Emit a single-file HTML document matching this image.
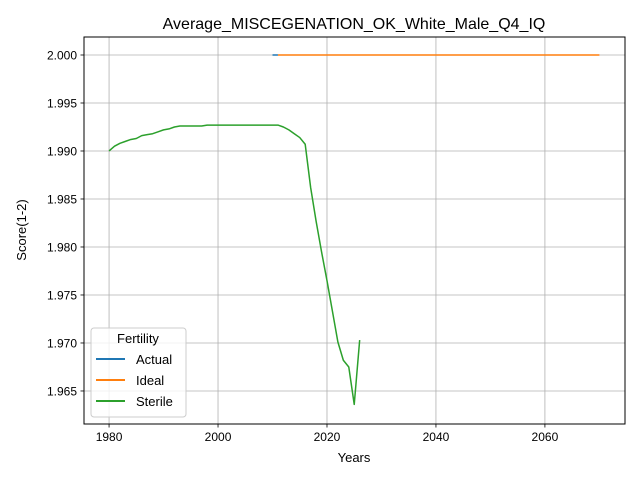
<!DOCTYPE html>
<html><head><meta charset="utf-8"><style>
body{margin:0;background:#fff}
svg{display:block;font-family:"Liberation Sans","DejaVu Sans",sans-serif}
</style></head><body>
<svg id="chart" width="640" height="480" viewBox="0 0 640 480" xmlns="http://www.w3.org/2000/svg">
<rect width="640" height="480" fill="#fff"/>
<g id="grid"></g>
<g id="series"></g>
<rect x="84" y="37" width="541" height="387" fill="none" stroke="#000" stroke-width="1"/>
<g id="ticks"></g>
<text x="354" y="29" font-size="16" text-anchor="middle">Average_MISCEGENATION_OK_White_Male_Q4_IQ</text>
<text x="354" y="462" font-size="13" text-anchor="middle">Years</text>
<text x="26" y="230" font-size="13" text-anchor="middle" transform="rotate(-90 26 230)">Score(1-2)</text>
<g>
<rect x="91" y="328" width="95" height="89" rx="3" fill="#fff" fill-opacity="0.8" stroke="#ccc"/>
<text x="138" y="343" font-size="13" text-anchor="middle">Fertility</text>
<g><line x1="96" y1="359" x2="125" y2="359" stroke="#1f77b4" stroke-width="2"/><text x="136" y="364" font-size="13">Actual</text></g>
<g><line x1="96" y1="380" x2="125" y2="380" stroke="#ff7f0e" stroke-width="2"/><text x="136" y="385" font-size="13">Ideal</text></g>
<g><line x1="96" y1="401" x2="125" y2="401" stroke="#2ca02c" stroke-width="2"/><text x="136" y="406" font-size="13">Sterile</text></g>
</g>
</svg>
<script>
const xTicks=[1980,2000,2020,2040,2060];
const yTicks=[1.965,1.970,1.975,1.980,1.985,1.990,1.995,2.000];
const actualYears=[2010,2011];
const actualValues=[2.000,2.000];
const idealYears=[2011,2070];
const idealValues=[2.000,2.000];
const sterileYears=[1980,1981,1982,1983,1984,1985,1986,1987,1988,1989,1990,1991,1992,1993,1994,1995,1996,1997,1998,1999,2000,2001,2002,2003,2004,2005,2006,2007,2008,2009,2010,2011,2012,2013,2014,2015,2016,2017,2018,2019,2020,2021,2022,2023,2024,2025,2026];
const sterileValues=[1.9900,1.9905,1.9908,1.9910,1.9912,1.9913,1.9916,1.9917,1.9918,1.9920,1.9922,1.9923,1.9925,1.9926,1.9926,1.9926,1.9926,1.9926,1.9927,1.9927,1.9927,1.9927,1.9927,1.9927,1.9927,1.9927,1.9927,1.9927,1.9927,1.9927,1.9927,1.9927,1.9925,1.9922,1.9918,1.9914,1.9907,1.9862,1.9827,1.9795,1.9765,1.9733,1.9701,1.9682,1.9675,1.9636,1.9703];

const X0=84,X1=625,Y0=37,Y1=424;
const xMin=1975.4,xMax=2074.7,yMin=1.96156,yMax=2.001875;
const sx=v=>X0+(v-xMin)/(xMax-xMin)*(X1-X0);
const sy=v=>Y1-(v-yMin)/(yMax-yMin)*(Y1-Y0);
const NS="http://www.w3.org/2000/svg";
const grid=document.getElementById('grid'),ticks=document.getElementById('ticks'),series=document.getElementById('series');
function mk(tag,attrs,parent){const e=document.createElementNS(NS,tag);for(const k in attrs)e.setAttribute(k,attrs[k]);parent.appendChild(e);return e;}
xTicks.forEach(t=>{
  const x=sx(t);
  const g=mk('line',{x1:x,x2:x,y1:Y0,y2:Y1,stroke:'#b0b0b0','stroke-width':0.8},grid);
  
  
  mk('line',{x1:x,x2:x,y1:Y1,y2:Y1+3.5,stroke:'#000','stroke-width':0.8},ticks);
  const tx=mk('text',{x:x,y:Y1+17,'font-size':12,'text-anchor':'middle'},ticks);
  tx.textContent=t;
  
  
});
yTicks.forEach(t=>{
  const y=sy(t);
  const g=mk('line',{x1:X0,x2:X1,y1:y,y2:y,stroke:'#b0b0b0','stroke-width':0.8},grid);
  
  
  mk('line',{x1:X0-3.5,x2:X0,y1:y,y2:y,stroke:'#000','stroke-width':0.8},ticks);
  const tx=mk('text',{x:X0-7,y:y+4.5,'font-size':12,'text-anchor':'end'},ticks);
  tx.textContent=t.toFixed(3);
  
  
});
function line(xs,ys,color,name){
  const p=mk('polyline',{points:xs.map((x,i)=>sx(x)+','+sy(ys[i])).join(' '),fill:'none',stroke:color,'stroke-width':1.5,'stroke-linejoin':'round'},series);
  
  
}
line(actualYears,actualValues,'#1f77b4','actual-line');
line(idealYears,idealValues,'#ff7f0e','ideal-line');
line(sterileYears,sterileValues,'#2ca02c','sterile-line');
</script>
</body></html>
